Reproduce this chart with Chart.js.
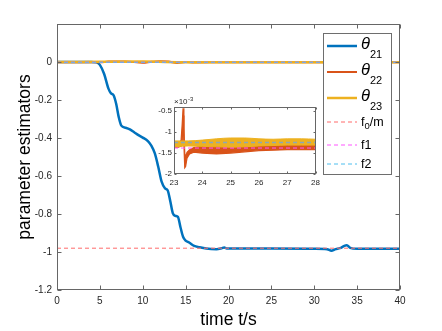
<!DOCTYPE html>
<html>
<head>
<meta charset="utf-8">
<script src="https://cdn.jsdelivr.net/npm/chart.js@4.4.1/dist/chart.umd.min.js"></script>
<style>
  html, body { margin: 0; padding: 0; background: #fff; }
  #wrap { position: relative; width: 442px; height: 331px; }
  #main { position: absolute; left: 0; top: 0; }
  #inset { position: absolute; left: 139px; top: 92px; }
</style>
</head>
<body>
<div id="wrap">
  <canvas id="main" width="442" height="331"></canvas>
  <canvas id="inset" width="185" height="100"></canvas>
</div>
<script>
// ---- data ----
const xTicks = [0, 5, 10, 15, 20, 25, 30, 35, 40];
const yTicks = [-1.2, -1, -0.8, -0.6, -0.4, -0.2, 0];
const insetXTicks = [23, 24, 25, 26, 27, 28];
const insetYTicks = [-2, -1.5, -1, -0.5];

const t21 = [0, 4, 4.6, 5, 5.5, 6, 6.3, 6.6, 6.9, 7.2, 7.5, 8, 8.5, 9, 9.5, 10, 10.6, 11, 11.4, 11.8,
  12.2, 12.6, 12.9, 13.2, 13.5, 13.8, 14.1, 14.4, 14.7, 15, 15.4, 16, 16.6, 17.4, 18.6, 19.2, 19.5,
  19.8, 21, 25, 30, 31.5, 32, 32.5, 33, 33.5, 33.8, 34.2, 35, 40];
const theta21 = [0, 0, -0.002, -0.015, -0.063, -0.14, -0.165, -0.175, -0.22, -0.29, -0.335, -0.346,
  -0.355, -0.37, -0.385, -0.398, -0.416, -0.44, -0.48, -0.55, -0.63, -0.665, -0.675, -0.73, -0.795,
  -0.81, -0.815, -0.87, -0.92, -0.94, -0.95, -0.968, -0.975, -0.982, -0.985, -0.98, -0.976, -0.982,
  -0.982, -0.982, -0.983, -0.985, -0.993, -0.985, -0.98, -0.968, -0.965, -0.978, -0.983, -0.983];

const t22 = [0, 5, 6, 8, 10, 11, 12, 13, 14, 15, 16, 20, 40];
const theta22 = [-0.001, -0.001, 0.002, 0.003, -0.004, 0.001, 0.004, 0.002, -0.005, 0, -0.002, -0.001, -0.0013];
const t23 = [0, 5, 10, 15, 20, 40];
const theta23 = [0, 0.001, 0.002, -0.001, -0.0012, -0.0012];

const refNames = ['f0/m', 'f1', 'f2'];
const refValues = [-0.98, -1.38e-3, -1.25e-3];

// zoomed window (units of 1e-3): oscillation envelopes
const zoomT22 = [23, 23.15, 23.25, 23.29, 23.32, 23.35, 23.38, 23.41, 23.46, 23.55, 23.7, 23.85,
  24, 24.5, 25, 25.5, 26, 26.5, 27, 27.5, 28];
const zoom22Upper = [-1.27, -1.27, -1.2, -0.8, -0.43, -0.9, -1.5, -1.6, -1.48, -1.42, -1.37, -1.35,
  -1.34, -1.34, -1.35, -1.35, -1.33, -1.32, -1.32, -1.32, -1.32];
const zoom22Lower = [-1.36, -1.36, -1.34, -1.25, -0.6, -1.3, -1.85, -1.82, -1.62, -1.52, -1.48, -1.49,
  -1.5, -1.52, -1.5, -1.47, -1.44, -1.43, -1.42, -1.42, -1.42];
const zoomT23 = [23, 23.5, 24, 24.5, 25, 25.5, 26, 26.5, 27, 27.5, 28];
const zoom23Upper = [-1.21, -1.21, -1.19, -1.16, -1.14, -1.14, -1.16, -1.17, -1.16, -1.16, -1.17];
const zoom23Lower = [-1.35, -1.33, -1.34, -1.35, -1.36, -1.35, -1.33, -1.32, -1.31, -1.31, -1.31];

const FONT = "'Liberation Sans', Arial, Helvetica, sans-serif";
const BLUE = '#0072BD', ORANGE = '#D95319', YELLOW = '#EDB120';
const refColors = ['#FF6B6B', '#FF55FF', '#4DBEEE'];

const pts = (xs, ys) => xs.map((x, i) => ({ x: x, y: ys[i] }));
const fmt = v => { const r = Math.round(v * 10) / 10; return r === 0 ? '0' : String(r); };

// box + inward ticks, like matlab
function boxPlugin(len, color) {
  return {
    id: 'box',
    afterDatasetsDraw(chart) {
      const { ctx, chartArea: a, scales: { x, y } } = chart;
      const L = Math.round(a.left) + 0.5, R = Math.round(a.right) - 0.5;
      const T = Math.round(a.top) + 0.5, B = Math.round(a.bottom) - 0.5;
      ctx.save();
      ctx.strokeStyle = color;
      ctx.lineWidth = 1;
      ctx.setLineDash([]);
      ctx.strokeRect(L, T, R - L, B - T);
      ctx.beginPath();
      x.ticks.forEach(t => {
        const p = Math.round(x.getPixelForValue(t.value)) + 0.5;
        ctx.moveTo(p, B); ctx.lineTo(p, B - len);
        ctx.moveTo(p, T); ctx.lineTo(p, T + len);
      });
      y.ticks.forEach(t => {
        const p = Math.round(y.getPixelForValue(t.value)) + 0.5;
        ctx.moveTo(L, p); ctx.lineTo(L + len, p);
        ctx.moveTo(R, p); ctx.lineTo(R - len, p);
      });
      ctx.stroke();
      ctx.restore();
    }
  };
}

// draws "a_{bc}" style text with subscripts
function drawRich(ctx, str, x, y, size, subSize, subDrop, italicFirst) {
  let i = 0, cx = x;
  while (i < str.length) {
    if (str[i] === '_') {
      let sub;
      if (str[i + 1] === '{') { const e = str.indexOf('}', i); sub = str.slice(i + 2, e); i = e + 1; }
      else { sub = str[i + 1]; i += 2; }
      ctx.font = subSize + 'px ' + FONT;
      ctx.fillText(sub, cx, y + subDrop);
      cx += ctx.measureText(sub).width;
    } else {
      const ch = str[i];
      ctx.font = (italicFirst && ch === 'θ' ? 'italic ' : '') + size + 'px ' + FONT;
      ctx.fillText(ch, cx, y);
      cx += ctx.measureText(ch).width;
      i++;
    }
  }
}

const legendItems = ['θ_{21}', 'θ_{22}', 'θ_{23}', 'f_0/m', 'f1', 'f2'];
const legendPlugin = {
  id: 'mlegend',
  afterDraw(chart) {
    const ctx = chart.ctx;
    const rowY = [46, 72, 98, 122, 145, 164];
    ctx.save();
    ctx.fillStyle = '#fff';
    ctx.fillRect(323.5, 33.5, 68, 141);
    ctx.strokeStyle = '#6e6e6e';
    ctx.lineWidth = 1;
    ctx.strokeRect(323.5, 33.5, 68, 141);
    chart.data.datasets.forEach((ds, i) => {
      const yy = rowY[i];
      ctx.beginPath();
      ctx.strokeStyle = ds.borderColor;
      ctx.lineWidth = ds.borderWidth;
      ctx.setLineDash(ds.borderDash || []);
      ctx.moveTo(327, yy); ctx.lineTo(357, yy);
      ctx.stroke();
      ctx.setLineDash([]);
      ctx.fillStyle = '#000';
      ctx.textBaseline = 'alphabetic';
      if (i < 3) drawRich(ctx, legendItems[i], 361, yy + 2.5, 16.5, 11, 9, true);
      else drawRich(ctx, legendItems[i], 361, yy + 4, 12.5, 9.5, 3, false);
    });
    ctx.restore();
  }
};

const lineDs = (label, data, color, width, order, extra) => Object.assign({
  label: label, data: data, borderColor: color, backgroundColor: color, borderWidth: width,
  showLine: true, pointRadius: 0, fill: false, order: order
}, extra || {});

const mainDatasets = [
  lineDs('θ21', pts(t21, theta21), BLUE, 2.5, 6, { cubicInterpolationMode: 'monotone' }),
  lineDs('θ22', pts(t22, theta22), ORANGE, 2, 5, { cubicInterpolationMode: 'monotone' }),
  lineDs('θ23', pts(t23, theta23), YELLOW, 2.5, 4, { cubicInterpolationMode: 'monotone' })
];
refValues.forEach((v, i) => {
  mainDatasets.push(lineDs(refNames[i], [{ x: 0, y: v }, { x: 40, y: v }], refColors[i], 1, 3 - i, { borderDash: [4, 3] }));
});

new Chart(document.getElementById('main'), {
  type: 'scatter',
  data: { datasets: mainDatasets },
  options: {
    responsive: false,
    animation: false,
    events: [],
    layout: { padding: { left: 0, right: 42, top: 24, bottom: 0 } },
    plugins: { legend: { display: false }, tooltip: { enabled: false } },
    scales: {
      x: {
        type: 'linear', min: 0, max: 40,
        afterBuildTicks: s => { s.ticks = xTicks.map(v => ({ value: v })); },
        afterFit: s => { s.height = 41; },
        grid: { display: false, drawTicks: false },
        border: { display: false },
        ticks: { color: '#262626', font: { size: 10, family: FONT }, padding: 5, maxRotation: 0, autoSkip: false },
        title: { display: true, text: 'time t/s', color: '#000', font: { size: 17.5, family: FONT }, padding: { top: 0, bottom: 0.5 } }
      },
      y: {
        type: 'linear', min: -1.2, max: 0.2,
        afterBuildTicks: s => { s.ticks = yTicks.map(v => ({ value: v })); },
        afterFit: s => { s.width = 57; },
        grid: { display: false, drawTicks: false },
        border: { display: false },
        ticks: { color: '#262626', font: { size: 10, family: FONT }, padding: 5, callback: v => fmt(v) },
        title: { display: true, text: 'parameter estimators', color: '#000', font: { size: 17.5, family: FONT }, padding: { top: 15, bottom: 0 } }
      }
    }
  },
  plugins: [boxPlugin(4, '#666'), legendPlugin]
});

// ---- inset ----
const insetDatasets = [
  lineDs('θ22 hi', pts(zoomT22, zoom22Upper), ORANGE, 1.2, 5),
  lineDs('θ22 lo', pts(zoomT22, zoom22Lower), ORANGE, 1.2, 5, { fill: 0 }),
  lineDs('θ23 hi', pts(zoomT23, zoom23Upper), YELLOW, 1, 4, { cubicInterpolationMode: 'monotone' }),
  lineDs('θ23 lo', pts(zoomT23, zoom23Lower), YELLOW, 1, 4, { fill: 2, cubicInterpolationMode: 'monotone' }),
  lineDs('f1', [{ x: 23, y: refValues[1] * 1e3 }, { x: 28, y: refValues[1] * 1e3 }], refColors[1], 1, 2, { borderDash: [4, 3] }),
  lineDs('f2', [{ x: 23, y: refValues[2] * 1e3 }, { x: 28, y: refValues[2] * 1e3 }], '#8aa7b8', 1.5, 1, { borderDash: [4, 3] })
];

const insetBg = {
  id: 'insetBg',
  beforeDatasetsDraw(chart) {
    const { ctx, chartArea: a } = chart;
    ctx.save();
    ctx.fillStyle = '#fff';
    ctx.fillRect(a.left, a.top, a.right - a.left, a.bottom - a.top);
    ctx.restore();
  },
  afterDraw(chart) {
    const { ctx, chartArea: a } = chart;
    ctx.save();
    ctx.fillStyle = '#262626';
    ctx.textBaseline = 'alphabetic';
    ctx.font = '8px ' + FONT;
    ctx.fillText('×10', a.left, a.top - 3);
    const w = ctx.measureText('×10').width;
    ctx.font = '6px ' + FONT;
    ctx.fillText('-3', a.left + w + 0.5, a.top - 6.5);
    ctx.restore();
  }
};

new Chart(document.getElementById('inset'), {
  type: 'scatter',
  data: { datasets: insetDatasets },
  options: {
    responsive: false,
    animation: false,
    events: [],
    layout: { padding: { left: 0, right: 6, top: 15, bottom: 0 } },
    plugins: { legend: { display: false }, tooltip: { enabled: false } },
    scales: {
      x: {
        type: 'linear', min: 23, max: 28,
        afterBuildTicks: s => { s.ticks = insetXTicks.map(v => ({ value: v })); },
        afterFit: s => { s.height = 18; },
        grid: { display: false, drawTicks: false },
        border: { display: false },
        ticks: { color: '#262626', font: { size: 8, family: FONT }, padding: 4, maxRotation: 0, autoSkip: false }
      },
      y: {
        type: 'linear', min: -2, max: -0.4,
        afterBuildTicks: s => { s.ticks = insetYTicks.map(v => ({ value: v })); },
        afterFit: s => { s.width = 35; },
        grid: { display: false, drawTicks: false },
        border: { display: false },
        ticks: { color: '#262626', font: { size: 8, family: FONT }, padding: 2, callback: v => fmt(v) }
      }
    }
  },
  plugins: [insetBg, boxPlugin(2, '#666')]
});
</script>
</body>
</html>
